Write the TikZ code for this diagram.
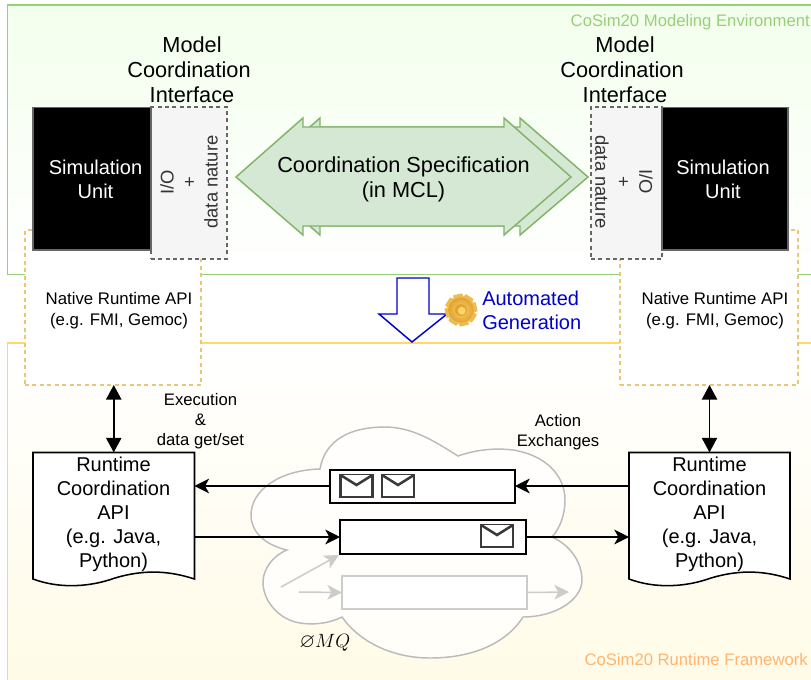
\documentclass[tikz,border=0pt]{standalone}
\usepackage{fontspec}
\usepackage{amssymb}
\setmainfont{Liberation Sans}
\usetikzlibrary{arrows.meta,calc}
\definecolor{grnline}{HTML}{97D077}
\definecolor{grntop}{HTML}{F3FFED}
\definecolor{ylwline}{HTML}{FFD966}
\definecolor{ylwbot}{HTML}{FFFBE6}
\definecolor{natline}{HTML}{EBC678}
\definecolor{arrfill}{HTML}{D5E8D4}
\definecolor{arrline}{HTML}{82B366}
\definecolor{ifline}{HTML}{666666}
\definecolor{iffill}{HTML}{F5F5F5}
\definecolor{blueg}{HTML}{0000CC}
\definecolor{cloudl}{HTML}{BBBBBB}
\definecolor{ghost}{HTML}{CCCCCC}
\definecolor{envl}{HTML}{3A3A3A}
\definecolor{orangelab}{HTML}{FFB570}
\definecolor{gearA}{HTML}{FBD667}
\definecolor{gearB}{HTML}{E2A233}
\newcommand{\fsz}[2]{\fontsize{#1pt}{#2pt}\selectfont}
\tikzset{
  x=0.75pt,y=-0.75pt,
  thinpx/.style={line width=1.1pt},
  boxarea/.style={draw=none,inner sep=0pt,outer sep=0pt},
  bigtext/.style={align=center,inner sep=0pt,font=\fsz{15}{18}},
  midtext/.style={align=center,inner sep=0pt,font=\fsz{12.5}{15}},
  titletext/.style={align=center,inner sep=0pt,font=\fsz{16.3}{18.75}},
  simbox/.style={draw=ifline,fill=black,thinpx,inner sep=0pt,outer sep=0pt},
  ifbox/.style={draw=ifline,fill=iffill,dash pattern=on 3pt off 2.5pt,line width=0.9pt,inner sep=0pt,outer sep=0pt},
  iftext/.style={align=center,inner sep=0pt,text=black!80,font=\fsz{13.8}{16.5}},
  natbox/.style={draw=natline,fill=white,dash pattern=on 3pt off 2.6pt,line width=0.8pt,inner sep=0pt,outer sep=0pt},
  specarrow/.style={draw=arrline,fill=arrfill,line width=1.1pt,line join=miter},
  docline/.style={draw=black,fill=white,line width=1.15pt},
  qbox/.style={draw=black,fill=white,line width=1.15pt,inner sep=0pt,outer sep=0pt},
  ghostbox/.style={draw=ghost,fill=white,line width=1.15pt,inner sep=0pt,outer sep=0pt},
  flow/.style={draw=black,line width=1.15pt,-{Stealth[length=11pt,width=11pt,inset=3pt]}},
  ghostflow/.style={draw=ghost,line width=1.15pt,-{Stealth[length=11pt,width=11pt,inset=3pt]}},
  bothway/.style={draw=black,line width=1.25pt,{Stealth[length=11pt,width=11.5pt,inset=0pt]}-{Stealth[length=11pt,width=11.5pt,inset=0pt]}},
  envelope/.style={draw=envl,fill=white,line width=1.9pt},
}
% #1 name, #2 style, #3 x1, #4 y1, #5 x2, #6 y2
\newcommand{\pxbox}[6]{%
  \pgfmathsetmacro{\pxw}{(#5-#3)*0.75}%
  \pgfmathsetmacro{\pxh}{(#6-#4)*0.75}%
  \node[#2,minimum width=\pxw pt,minimum height=\pxh pt] (#1) at ({(#3+#5)/2},{(#4+#6)/2}) {};}
\newcommand{\envel}[3]{% name, x, y
  \draw[envelope] (#2,#3) rectangle ++(32,22);
  \draw[envelope] (#2,#3) -- ++(16,10) -- ++(16,-10);
  \coordinate (#1) at (#2+16,#3+11);}
\begin{document}
\begin{tikzpicture}
\useasboundingbox (0,0) rectangle (811,679);
\clip (0,0) rectangle (811,679);
\fill[white] (0,0) rectangle (811,679);
% environments
\draw[draw=grnline,line width=1.3pt,top color=grntop,bottom color=white] (7.5,5) rectangle (830,274.5);
\draw[draw=ylwline,line width=1.3pt,top color=white,bottom color=ylwbot] (7.5,343) rectangle (830,700);
\node[anchor=east,inner sep=0pt,text=grnline,font=\fsz{12.5}{15}] (envM) at (810,22) {CoSim20 Modeling Environment};
\node[anchor=east,inner sep=0pt,text=orangelab,font=\fsz{12.5}{15}] (envR) at (808,660) {CoSim20 Runtime Framework};
% native API
\pxbox{natL}{natbox}{25}{230}{201}{385}
\pxbox{natR}{natbox}{620}{230}{798}{385}
\node[align=center,inner sep=0pt,font=\fsz{12.6}{15.75}] (natLt) at (119,310.5) {Native Runtime API\\(e.g. FMI, Gemoc)};
\node[align=center,inner sep=0pt,font=\fsz{12.6}{15.75}] (natRt) at (715,310.5) {Native Runtime API\\(e.g. FMI, Gemoc)};
% interfaces and units
\pxbox{ifL}{ifbox}{151}{107}{227}{259}
\pxbox{ifR}{ifbox}{591}{107}{662}{259}
\pxbox{simL}{simbox}{33}{107.5}{151}{250}
\pxbox{simR}{simbox}{662}{107.5}{788}{250}
\node[text=white,align=center,inner sep=0pt,font=\fsz{15}{18}] (simLt) at (95.5,179) {Simulation\\Unit};
\node[text=white,align=center,inner sep=0pt,font=\fsz{15}{18}] (simRt) at (723,179) {Simulation\\Unit};
\node[iftext,rotate=90] (ifLt) at (189,182) {I/O\\+\\data nature};
\node[iftext,rotate=-90] (ifRt) at (624,182) {I/O\\+\\data nature};
\node[titletext] (mciL) at (192,70) {Model\\\mbox{Coordination\hspace{4.5pt}}\\Interface};
\node[titletext] (mciR) at (625,70) {Model\\\mbox{Coordination\hspace{4.5pt}}\\Interface};
% coordination specification arrows
\draw[specarrow] (253,177) -- (320,118) -- (320,127) -- (520,127) -- (520,118) -- (588,177) -- (520,235) -- (520,226) -- (320,226) -- (320,235) -- cycle;
\draw[specarrow] (236,177) -- (303,118) -- (303,127) -- (504,127) -- (504,118) -- (571,177) -- (504,235) -- (504,226) -- (303,226) -- (303,235) -- cycle;
\node[titletext] (spec) at (403.5,179.5) {Coordination Specification\\(in MCL)};
% generation arrow
\draw[draw=blueg,fill=white,line width=1.1pt,line join=miter] (397,278) -- (429,278) -- (429,314) -- (447,314) -- (412,342) -- (379,314) -- (397,314) -- cycle;
% gear
\begin{scope}[shift={(461,310)}]
  \foreach \a in {0,45,...,315}{
    \fill[gearA!50!gearB,rotate=\a+12] (-4.5,-16) -- (4.5,-16) -- (6,-9) -- (-6,-9) -- cycle;
  }
  \shade[inner color=gearA,outer color=gearB] (0,0) circle (12.5);
  \fill[gearB] (0,0) circle (6);
  \fill[gearA] (0.8,0.8) circle (4);
\end{scope}
\node[align=left,anchor=west,inner sep=0pt,text=blueg,font=\fsz{15}{18}] (autog) at (482,310) {Automated\\Generation};
% cloud
\draw[draw=cloudl,fill=white,fill opacity=0.75,line width=1.1pt] (320,469)
  .. controls (325,440) and (350,427) .. (385,427)
  .. controls (415,427) and (440,445) .. (458,456)
  .. controls (478,449) and (497,448) .. (513,450)
  .. controls (545,455) and (565,475) .. (565,500)
  .. controls (565,515) and (560,528) .. (552,537)
  .. controls (570,545) and (582,562) .. (582,580)
  .. controls (582,600) and (555,617) .. (523,617)
  .. controls (505,645) and (470,658) .. (430,658)
  .. controls (390,658) and (358,640) .. (342,617)
  .. controls (328,624) and (312,625) .. (300,623)
  .. controls (280,620) and (263,602) .. (263,582)
  .. controls (263,570) and (272,556) .. (287,550)
  .. controls (265,545) and (251,532) .. (251,515)
  .. controls (251,490) and (280,470) .. (320,469) -- cycle;
% documents
\draw[docline] (33,452.5) -- (194.5,452.5) -- (194.5,579) .. controls (170,571) and (145,569) .. (115,578) .. controls (90,587) and (60,589) .. (33,579) -- cycle;
\draw[docline] (629,452.5) -- (790,452.5) -- (790,579) .. controls (766,571) and (741,569) .. (711,578) .. controls (686,587) and (656,589) .. (629,579) -- cycle;
\node[boxarea,minimum width=121pt,minimum height=95pt] (docL) at (113.75,515.75) {};
\node[boxarea,minimum width=120.75pt,minimum height=95pt] (docR) at (709.5,515.75) {};
\node[bigtext] (docLt) at (113.5,514.5) {Runtime\\Coordination\\API\\(e.g. Java,\\Python)};
\node[bigtext] (docRt) at (709.5,514.5) {Runtime\\Coordination\\API\\(e.g. Java,\\Python)};
% queues
\pxbox{qA}{qbox}{330}{470}{515}{503}
\pxbox{qB}{qbox}{340}{520}{526}{554}
\pxbox{qC}{ghostbox}{342}{576}{527}{609}
\envel{enA}{340.5}{475}
\envel{enB}{382}{475}
\envel{enC}{481}{525}
% connectors
\coordinate (qAl) at (330,486); \coordinate (qAr) at (515,486);
\draw[flow] (qA.west |- qAl) -- (docL.east |- qAl);
\draw[flow] (docR.west |- qAr) -- (qA.east |- qAr);
\draw[flow] (docL.east |- qB.west) -- (qB.west);
\draw[flow] (qB.east) -- (docR.west |- qB.east);
\coordinate (gA) at (281,587); \coordinate (gB) at (339,555);
\coordinate (gC) at (299,592); \coordinate (gD) at (569,592);
\draw[ghostflow] (gA) -- (gB);
\draw[ghostflow] (gC) -- (qC.west);
\draw[ghostflow] (qC.east) -- (gD);
\draw[bothway] (natL.south -| docL.north) -- (docL.north);
\draw[bothway] (natR.south -| docR.north) -- (docR.north);
% labels
\node[midtext] (exec) at (200.5,421) {Execution\\\&\\data get/set};
\node[midtext] (act) at (558,432.5) {Action\\Exchanges};
\node[inner sep=0pt,font=\fsz{15}{18}] (zmq) at (325,643) {$\varnothing MQ$};
\end{tikzpicture}
\end{document}
